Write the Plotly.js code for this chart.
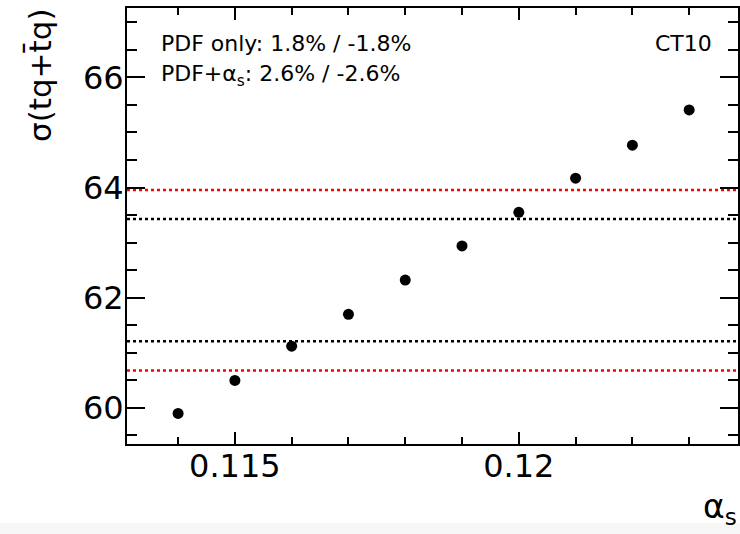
<!DOCTYPE html>
<html>
<head>
<meta charset="utf-8">
<script src="https://cdn.plot.ly/plotly-3.0.1.min.js"></script>
<style>html,body{margin:0;padding:0;background:#fff;}#plot{width:740px;height:534px;}</style>
</head>
<body>
<div id="plot"></div>
<script>
// Data
var alphaS = [0.114, 0.115, 0.116, 0.117, 0.118, 0.119, 0.120, 0.121, 0.122, 0.123];
var sigma  = [59.90, 60.50, 61.12, 61.70, 62.32, 62.94, 63.55, 64.17, 64.77, 65.41];
var pdfOnlyBand   = [61.21, 63.43];   // black dotted
var pdfAlphasBand = [60.68, 63.955];  // red dotted
var xTickVals = [0.115, 0.12];
var xTickText = ["0.115", "0.12"];
var yTickVals = [60, 62, 64, 66];
var yTickText = ["60", "62", "64", "66"];
var labelPdfOnly = "PDF only: 1.8% / -1.8%";
var labelPdfAlphas = "PDF+α<sub>s</sub>: 2.6% / -2.6%";
var labelSet = "CT10";
var xTitle = "α<sub>s</sub>";
var yTitle = "σ(tq+t\u0304q)";

var font = "DejaVu Sans, Liberation Sans, Arial, sans-serif";

var traces = [{
  x: alphaS, y: sigma, type: "scatter", mode: "markers",
  marker: {color: "#000", size: 11, symbol: "circle"},
  hoverinfo: "x+y", showlegend: false
}];

var shapes = [];
pdfAlphasBand.forEach(function(v){
  shapes.push({type:"line", xref:"paper", x0:0, x1:1, yref:"y", y0:v, y1:v,
    line:{color:"#ff0000", width:2.5, dash:"dot"}, layer:"below"});
});
pdfOnlyBand.forEach(function(v){
  shapes.push({type:"line", xref:"paper", x0:0, x1:1, yref:"y", y0:v, y1:v,
    line:{color:"#000000", width:2.5, dash:"dot"}, layer:"below"});
});
// faint strip at the bottom of the reference picture
shapes.push({type:"rect", xref:"paper", yref:"paper", x0:-0.3, x1:1.01,
  y0:(444-534)/436, y1:(444-523)/436, fillcolor:"#f7f7f7", line:{width:0}, layer:"below"});

var layout = {
  width: 740, height: 534,
  margin: {l: 127, r: 2, t: 8, b: 90, pad: 0},
  paper_bgcolor: "#fff", plot_bgcolor: "rgba(0,0,0,0)",
  font: {family: font, color: "#000"},
  showlegend: false,
  xaxis: {
    range: [0.1131, 0.12386],
    tickvals: xTickVals, ticktext: xTickText,
    ticks: "inside", ticklen: 12, tickwidth: 2, tickcolor: "#000",
    minor: {ticks: "inside", ticklen: 7, tickwidth: 2, dtick: 0.001, tick0: 0.11, tickcolor: "#000", showgrid: false},
    showline: true, linecolor: "#000", linewidth: 2, mirror: "allticks",
    showgrid: false, zeroline: false, ticklabelstandoff: -7,
    tickfont: {size: 32, family: font, color: "#000"}
  },
  yaxis: {
    range: [59.345, 67.26],
    tickvals: yTickVals, ticktext: yTickText,
    ticks: "inside", ticklen: 18, tickwidth: 2, tickcolor: "#000",
    minor: {ticks: "inside", ticklen: 10, tickwidth: 2, dtick: 0.5, tick0: 0, tickcolor: "#000", showgrid: false},
    showline: true, linecolor: "#000", linewidth: 2, mirror: "allticks",
    showgrid: false, zeroline: false, ticklabelstandoff: -5,
    tickfont: {size: 32, family: font, color: "#000"}
  },
  shapes: shapes,
  annotations: [
    {text: labelPdfOnly, xref: "paper", yref: "paper", x: (159-127)/611, y: (444-43)/436,
     xanchor: "left", yanchor: "middle", showarrow: false, font: {size: 22, family: font, color: "#000"}},
    {text: labelPdfAlphas, xref: "paper", yref: "paper", x: (159-127)/611, y: (444-75)/436,
     xanchor: "left", yanchor: "middle", showarrow: false, font: {size: 22, family: font, color: "#000"}},
    {text: labelSet, xref: "paper", yref: "paper", x: (714-127)/611, y: (444-43)/436,
     xanchor: "right", yanchor: "middle", showarrow: false, font: {size: 22, family: font, color: "#000"}},
    {text: yTitle, xref: "paper", yref: "paper", x: (40-127)/611, y: (444-76)/436, textangle: -90,
     xanchor: "center", yanchor: "middle", showarrow: false, font: {size: 31, family: font, color: "#000"}},
    {text: xTitle, xref: "paper", yref: "paper", x: (739-127)/611, y: (444-508)/436,
     xanchor: "right", yanchor: "middle", showarrow: false, font: {size: 33, family: font, color: "#000"}}
  ]
};

Plotly.newPlot("plot", traces, layout, {displayModeBar: false, staticPlot: true});
</script>
</body>
</html>
